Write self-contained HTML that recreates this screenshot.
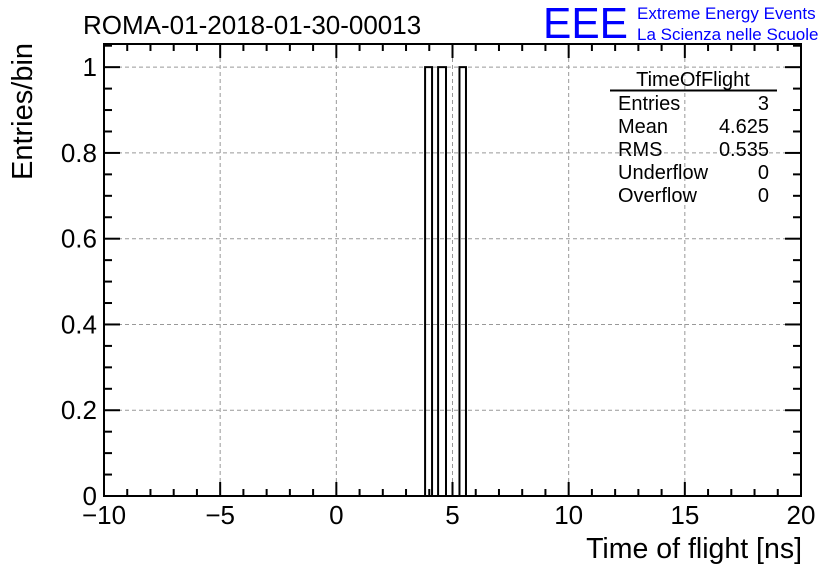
<!DOCTYPE html>
<html><head><meta charset="utf-8"><style>
body{margin:0;background:#fff;}
svg text{font-family:"Liberation Sans",sans-serif;}
</style></head><body>
<svg width="836" height="572" viewBox="0 0 836 572">
<g id="grid"></g>
<g id="bars"></g>
<g id="axes"></g>
<text x="83" y="34" font-size="26">ROMA-01-2018-01-30-00013</text>
<text x="543" y="38" font-size="44" fill="#0000ff" textLength="85" lengthAdjust="spacingAndGlyphs">EEE</text>
<text x="637" y="19" font-size="17" fill="#0000ff">Extreme Energy Events</text>
<text x="637" y="40" font-size="17" fill="#0000ff">La Scienza nelle Scuole</text>
<text x="802" y="558" font-size="28.5" text-anchor="end">Time of flight [ns]</text>
<text transform="translate(32,180) rotate(-90)" font-size="29">Entries/bin</text>
<g>
<text x="693" y="86" font-size="20" text-anchor="middle">TimeOfFlight</text>
<line x1="610" y1="90.5" x2="777" y2="90.5" stroke="#000" stroke-width="2"/>
<g font-size="20">
<text x="618" y="110">Entries</text><text x="769" y="110" text-anchor="end">3</text>
<text x="618" y="133">Mean</text><text x="769" y="133" text-anchor="end">4.625</text>
<text x="618" y="156">RMS</text><text x="769" y="156" text-anchor="end">0.535</text>
<text x="618" y="179">Underflow</text><text x="769" y="179" text-anchor="end">0</text>
<text x="618" y="202">Overflow</text><text x="769" y="202" text-anchor="end">0</text>
</g></g>
</svg>
<script>
const binLow=[3.82,4.38,5.3];
const binHigh=[4.12,4.72,5.58];
const binCounts=[1,1,1];
const xTicks=[-10,-5,0,5,10,15,20];
const yTicks=[0,0.2,0.4,0.6,0.8,1];
const yTickLabels=["0","0.2","0.4","0.6","0.8","1"];
const X0=104,X1=801,Y0=496,Y1=44,xmin=-10,xmax=20,ymin=0,ymax=1.054;
const sx=v=>X0+(v-xmin)/(xmax-xmin)*(X1-X0);
const sy=v=>Y0-(v-ymin)/(ymax-ymin)*(Y0-Y1);
const NS="http://www.w3.org/2000/svg";
function mk(t,a,p){const e=document.createElementNS(NS,t);for(const k in a)e.setAttribute(k,a[k]);p.appendChild(e);return e;}
const grid=document.getElementById('grid'),bars=document.getElementById('bars'),axes=document.getElementById('axes');
xTicks.forEach(v=>{if(v>xmin&&v<xmax){const l=mk('line',{x1:sx(v),x2:sx(v),y1:Y1,y2:Y0,stroke:'#999','stroke-dasharray':'4,3','stroke-width':1},grid);

}});
yTicks.forEach(v=>{if(v>ymin){const l=mk('line',{x1:X0,x2:X1,y1:sy(v),y2:sy(v),stroke:'#999','stroke-dasharray':'4,3','stroke-width':1},grid);

}});
binLow.forEach((lo,i)=>{const x1=sx(lo),x2=sx(binHigh[i]),y=sy(binCounts[i]);
const p=mk('path',{d:`M${x1},${Y0}V${y}H${x2}V${Y0}`,fill:'none',stroke:'#000','stroke-width':2},bars);

});
const f=mk('rect',{x:X0,y:Y1,width:X1-X0,height:Y0-Y1,fill:'none',stroke:'#000','stroke-width':2},axes);


for(let v=xmin;v<=xmax+1e-9;v+=1){const maj=Math.abs(v%5)<1e-9,L=maj?14:7;
mk('line',{x1:sx(v),x2:sx(v),y1:Y0,y2:Y0-L,stroke:'#000','stroke-width':2},axes);
mk('line',{x1:sx(v),x2:sx(v),y1:Y1,y2:Y1+L,stroke:'#000','stroke-width':2},axes);}
for(let v=0;v<=ymax+1e-9;v+=0.05){const maj=Math.abs(v/0.2-Math.round(v/0.2))<1e-6,L=maj?16:8;
mk('line',{x1:X0,x2:X0+L,y1:sy(v),y2:sy(v),stroke:'#000','stroke-width':2},axes);
mk('line',{x1:X1,x2:X1-L,y1:sy(v),y2:sy(v),stroke:'#000','stroke-width':2},axes);}
xTicks.forEach(v=>{const t=mk('text',{x:sx(v),y:Y0+28,'font-size':26,'text-anchor':'middle'},axes);t.textContent=v<0?'\u2212'+(-v):String(v);

});
yTicks.forEach((v,i)=>{const t=mk('text',{x:X0-7,y:sy(v)+9,'font-size':26,'text-anchor':'end'},axes);t.textContent=yTickLabels[i];

});
</script>
</body></html>
